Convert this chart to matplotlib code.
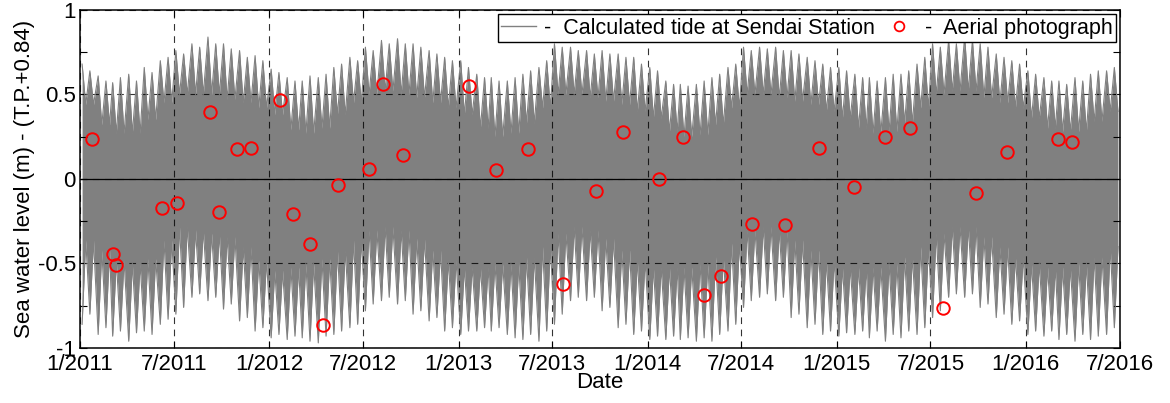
import matplotlib
matplotlib.use("Agg")
import matplotlib.pyplot as plt
from matplotlib.lines import Line2D
import pandas as pd

plt.rcParams['font.family'] = ['Liberation Sans', 'DejaVu Sans']

# months covered by the tide record (Jan 2011 .. Jun 2016)
months = pd.date_range("2011-01-01", "2016-06-01", freq="MS")

# spring-tide highs (two per month), neap highs (one per month)
hi_spring_a = [0.68, 0.61, 0.57, 0.62, 0.66, 0.70, 0.76, 0.80, 0.84, 0.80, 0.76, 0.73,
               0.65, 0.60, 0.58, 0.60, 0.66, 0.72, 0.78, 0.82, 0.83, 0.80, 0.76, 0.72,
               0.70, 0.62, 0.60, 0.58, 0.62, 0.66, 0.80, 0.78, 0.76, 0.76, 0.74, 0.72,
               0.66, 0.58, 0.56, 0.56, 0.60, 0.66, 0.78, 0.78, 0.78, 0.76, 0.72, 0.68,
               0.66, 0.62, 0.60, 0.60, 0.62, 0.68, 0.80, 0.82, 0.84, 0.80, 0.74, 0.70,
               0.64, 0.60, 0.58, 0.60, 0.62, 0.64]
hi_spring_b = [0.64, 0.58, 0.60, 0.58, 0.63, 0.72, 0.74, 0.78, 0.80, 0.77, 0.72, 0.70,
               0.63, 0.58, 0.61, 0.62, 0.68, 0.70, 0.76, 0.80, 0.80, 0.78, 0.74, 0.70,
               0.66, 0.60, 0.58, 0.60, 0.64, 0.70, 0.78, 0.76, 0.74, 0.74, 0.72, 0.68,
               0.64, 0.56, 0.55, 0.58, 0.62, 0.68, 0.76, 0.77, 0.76, 0.74, 0.70, 0.66,
               0.64, 0.60, 0.58, 0.62, 0.64, 0.72, 0.78, 0.80, 0.82, 0.78, 0.72, 0.68,
               0.62, 0.58, 0.56, 0.58, 0.64, 0.66]
hi_neap = [0.44, 0.32, 0.27, 0.27, 0.35, 0.45, 0.50, 0.50, 0.50, 0.47, 0.45, 0.42,
           0.38, 0.29, 0.27, 0.30, 0.38, 0.45, 0.50, 0.52, 0.50, 0.48, 0.45, 0.42,
           0.38, 0.30, 0.25, 0.27, 0.33, 0.42, 0.50, 0.50, 0.48, 0.46, 0.44, 0.40,
           0.36, 0.28, 0.25, 0.26, 0.32, 0.42, 0.50, 0.50, 0.48, 0.46, 0.44, 0.40,
           0.36, 0.30, 0.27, 0.28, 0.33, 0.42, 0.50, 0.52, 0.52, 0.48, 0.45, 0.42,
           0.36, 0.30, 0.28, 0.28, 0.34, 0.40]

# spring-tide lows and neap lows
lo_spring_a = [-0.86, -0.92, -0.93, -0.96, -0.90, -0.86, -0.80, -0.70, -0.72, -0.77, -0.84, -0.90,
               -0.94, -0.95, -0.94, -0.97, -0.92, -0.88, -0.78, -0.72, -0.74, -0.80, -0.84, -0.90,
               -0.92, -0.90, -0.90, -0.92, -0.95, -0.96, -0.86, -0.72, -0.72, -0.78, -0.88, -0.92,
               -0.95, -0.95, -0.95, -0.96, -0.96, -0.90, -0.76, -0.70, -0.72, -0.82, -0.88, -0.92,
               -0.93, -0.92, -0.94, -0.96, -0.94, -0.92, -0.82, -0.70, -0.70, -0.76, -0.82, -0.86,
               -0.92, -0.93, -0.95, -0.96, -0.95, -0.92]
lo_spring_b = [-0.80, -0.88, -0.90, -0.91, -0.92, -0.83, -0.76, -0.68, -0.70, -0.74, -0.82, -0.88,
               -0.92, -0.93, -0.96, -0.93, -0.90, -0.86, -0.74, -0.70, -0.72, -0.78, -0.82, -0.88,
               -0.90, -0.88, -0.88, -0.94, -0.92, -0.90, -0.80, -0.70, -0.70, -0.76, -0.86, -0.90,
               -0.93, -0.93, -0.94, -0.94, -0.92, -0.86, -0.72, -0.68, -0.70, -0.80, -0.86, -0.90,
               -0.91, -0.90, -0.90, -0.92, -0.90, -0.88, -0.78, -0.68, -0.68, -0.74, -0.80, -0.84,
               -0.90, -0.90, -0.92, -0.92, -0.93, -0.88]
lo_neap = [-0.36, -0.42, -0.48, -0.50, -0.47, -0.36, -0.28, -0.30, -0.32, -0.34, -0.40, -0.48,
           -0.54, -0.52, -0.50, -0.47, -0.42, -0.36, -0.30, -0.28, -0.30, -0.35, -0.42, -0.48,
           -0.52, -0.52, -0.50, -0.50, -0.46, -0.40, -0.32, -0.28, -0.30, -0.35, -0.42, -0.48,
           -0.52, -0.52, -0.52, -0.50, -0.46, -0.38, -0.30, -0.28, -0.30, -0.36, -0.42, -0.48,
           -0.52, -0.52, -0.52, -0.50, -0.46, -0.40, -0.32, -0.28, -0.28, -0.34, -0.40, -0.46,
           -0.50, -0.52, -0.52, -0.50, -0.46, -0.40]

# aerial photograph dates and water levels
photo_dates = ["2011-01-24", "2011-03-05", "2011-03-12", "2011-06-08", "2011-07-07",
               "2011-09-09", "2011-09-26", "2011-11-01", "2011-11-28", "2012-01-22",
               "2012-02-17", "2012-03-20", "2012-04-14", "2012-05-13", "2012-07-11",
               "2012-08-08", "2012-09-15", "2013-01-21", "2013-03-14", "2013-05-15",
               "2013-07-22", "2013-09-23", "2013-11-15", "2014-01-22", "2014-03-11",
               "2014-04-19", "2014-05-22", "2014-07-21", "2014-09-24", "2014-11-27",
               "2015-02-03", "2015-04-05", "2015-05-23", "2015-07-26", "2015-09-27",
               "2015-11-26", "2016-03-03", "2016-03-30"]
photo_level = [0.234, -0.443, -0.51, -0.171, -0.142, 0.396, -0.193, 0.177, 0.185, 0.465,
               -0.21, -0.384, -0.866, -0.035, 0.061, 0.563, 0.144, 0.549, 0.053, 0.177,
               -0.622, -0.071, 0.277, -0.002, 0.248, -0.687, -0.573, -0.268, -0.272, 0.185,
               -0.045, 0.248, 0.299, -0.766, -0.081, 0.157, 0.238, 0.22]

# build the envelope series: spring, neap, spring, neap in each month
t, up, dn = [], [], []
for i, m in enumerate(months):
    for d, h, l in [(4, hi_spring_a[i], lo_spring_a[i]), (11, hi_neap[i], lo_neap[i]),
                    (19, hi_spring_b[i], lo_spring_b[i]), (26, hi_neap[i], lo_neap[i])]:
        t.append(m + pd.Timedelta(days=d))
        up.append(h)
        dn.append(l)

fig = plt.figure(figsize=(11.7, 4.03), dpi=100)
ax = fig.add_axes([0.0684, 0.1365, 0.8889, 0.8387])

tide_col = '#808080'
ax.fill_between(t, dn, up, color=tide_col, lw=0)
ax.plot(t, up, color=tide_col, lw=0.8)
ax.plot(t, dn, color=tide_col, lw=0.8)
ax.axhline(0, color='black', lw=0.9)

ax.plot(pd.to_datetime(photo_dates), photo_level, 'o', mfc='none', mec='red',
        ms=9, mew=1.4, ls='none')

ax.set_xlim(pd.Timestamp("2011-01-01"), pd.Timestamp("2016-07-01"))
ax.set_ylim(-1, 1)
xt = pd.date_range("2011-01-01", "2016-07-01", freq="6MS")
ax.set_xticks(xt)
ax.set_xticklabels([f"{d.month}/{d.year}" for d in xt])
ax.set_yticks([-1, -0.5, 0, 0.5, 1])
ax.set_yticklabels(['-1', '-0.5', '0', '0.5', '1'])
ax.set_yticks([-0.75, -0.25, 0.25, 0.75], minor=True)
ax.tick_params(which='both', direction='in', top=True, right=True, labelsize=16,
               length=5, width=0.8)
ax.tick_params(axis='x', pad=4)
ax.tick_params(axis='y', pad=3)

ax.grid(True, which='major', color='black', ls=(0, (6, 5)), lw=0.8, alpha=0.8)
for s in ax.spines.values():
    s.set_linewidth(1.1)

ax.set_xlabel("Date", fontsize=16, labelpad=-2)
ax.set_ylabel("Sea water level (m) - (T.P.+0.84)", fontsize=16, labelpad=2)

handles = [Line2D([], [], color=tide_col, lw=1),
           Line2D([], [], marker='o', mfc='none', mec='red', ms=7, mew=1.3, ls='none')]
leg = ax.legend(handles, ["-  Calculated tide at Sendai Station", "-  Aerial photograph"],
                loc='upper right', ncol=2, fontsize=15.5, frameon=True, fancybox=False,
                borderaxespad=0.2, handlelength=1.6, handletextpad=0.4, columnspacing=0.3,
                borderpad=0.15)
leg.get_frame().set_edgecolor('black')
leg.get_frame().set_linewidth(1.0)
leg.get_frame().set_alpha(1)

fig.savefig("out.png", dpi=100)
